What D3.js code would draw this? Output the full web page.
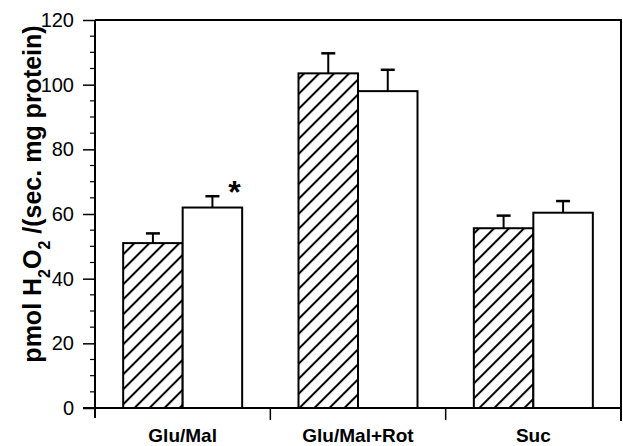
<!DOCTYPE html>
<html>
<head>
<meta charset="utf-8">
<script src="https://cdn.jsdelivr.net/npm/d3@7"></script>
<style>
  body { margin: 0; background: #fff; }
  svg text { font-family: "Liberation Sans", Arial, sans-serif; }
</style>
</head>
<body>
<div id="chart"></div>
<script>
// values
const groups = ["Glu/Mal", "Glu/Mal+Rot", "Suc"]
const hatched = [51, 103.5, 55.6]
const hatched_err = [3, 6.2, 3.9]
const open = [62, 98, 60.4]
const open_err = [3.5, 6.6, 3.6]
const y_ticks = [0, 20, 40, 60, 80, 100, 120]
const star_groups = ["Glu/Mal"] // significance marker on open bar

const width = 623
const height = 446
const mLeft = 95, mRight = 621, mTop = 20, mBottom = 408

const svg = d3.select("#chart").append("svg").attr("width", width).attr("height", height)

const defs = svg.append("defs")
defs.append("pattern")
  .attr("id", "hatch")
  .attr("patternUnits", "userSpaceOnUse")
  .attr("width", 10.6)
  .attr("height", 10.6)
  .attr("patternTransform", "rotate(45)")
  .append("line")
  .attr("x1", 2).attr("x2", 2)
  .attr("y1", 0).attr("y2", 10.6)
  .attr("stroke", "#000")
  .attr("stroke-width", 2)

const x = d3.scaleBand().domain(groups).range([mLeft, mRight]).padding(0)
const y = d3.scaleLinear().domain([0, 120]).range([mBottom, mTop])
const barW = 59.5
const sub = d3.scaleBand().domain(["hatched", "open"]).range([-barW, barW])
const mid = g => x(g) + x.bandwidth() / 2

// frame: top line and right line
svg.append("line").attr("x1", mLeft).attr("x2", mRight).attr("y1", mTop).attr("y2", mTop)
  .attr("stroke", "#000").attr("stroke-width", 2)
svg.append("line").attr("x1", mRight).attr("x2", mRight).attr("y1", mTop - 1).attr("y2", mBottom + 13)
  .attr("stroke", "#000").attr("stroke-width", 2)

// y axis
const yAxis = svg.append("g").attr("transform", `translate(${mLeft},0)`)
  .call(d3.axisLeft(y).tickValues(y_ticks).tickSize(12).tickPadding(9))
yAxis.select(".domain").remove()
yAxis.selectAll("line").attr("stroke-width", 1.5)
yAxis.selectAll("text").attr("font-size", 20).attr("fill", "#000")

const minor = d3.range(0, 121, 5).filter(v => v % 20 != 0)
svg.append("g").selectAll("line").data(minor).join("line")
  .attr("x1", mLeft - 5).attr("x2", mLeft)
  .attr("y1", d => y(d)).attr("y2", d => y(d))
  .attr("stroke", "#000").attr("stroke-width", 1.2)

svg.append("line").attr("x1", mLeft).attr("x2", mLeft).attr("y1", mTop).attr("y2", mBottom + 10)
  .attr("stroke", "#000").attr("stroke-width", 2)

// x axis
svg.append("line").attr("x1", mLeft - 12).attr("x2", mRight).attr("y1", mBottom).attr("y2", mBottom)
  .attr("stroke", "#000").attr("stroke-width", 2)
svg.append("g").selectAll("line").data(groups.slice(1)).join("line")
  .attr("x1", d => x(d)).attr("x2", d => x(d))
  .attr("y1", mBottom).attr("y2", mBottom + 12)
  .attr("stroke", "#000").attr("stroke-width", 1.5)

svg.append("g").selectAll("text").data(groups).join("text")
  .attr("x", d => mid(d))
  .attr("y", 442)
  .attr("text-anchor", "middle")
  .attr("font-size", 19)
  .attr("font-weight", "bold")
  .text(d => d)

// bars
function drawBars(values, errs, key, fill) {
  const g = svg.append("g")
  const cx = (d, i) => mid(groups[i]) + sub(key) + sub.bandwidth() / 2
  g.selectAll("line.err").data(values).join("line")
    .attr("x1", cx).attr("x2", cx)
    .attr("y1", d => y(d)).attr("y2", (d, i) => y(d + errs[i]))
    .attr("stroke", "#000").attr("stroke-width", 2)
  g.selectAll("line.cap").data(values).join("line")
    .attr("x1", (d, i) => cx(d, i) - 7).attr("x2", (d, i) => cx(d, i) + 7)
    .attr("y1", (d, i) => y(d + errs[i])).attr("y2", (d, i) => y(d + errs[i]))
    .attr("stroke", "#000").attr("stroke-width", 2.5)
  g.selectAll("rect").data(values).join("rect")
    .attr("x", (d, i) => mid(groups[i]) + sub(key))
    .attr("y", d => y(d))
    .attr("width", sub.bandwidth())
    .attr("height", d => y(0) - y(d))
    .attr("fill", fill)
    .attr("stroke", "#000")
    .attr("stroke-width", 2)
}
drawBars(hatched, hatched_err, "hatched", "url(#hatch)")
drawBars(open, open_err, "open", "#fff")

// significance marker
svg.append("g").selectAll("text").data(star_groups)
  .join("text")
  .attr("x", d => mid(d) + barW * 0.87)
  .attr("y", d => {
    const i = groups.indexOf(d)
    return y(open[i] + open_err[i]) + 7
  })
  .attr("text-anchor", "middle")
  .attr("font-size", 32)
  .attr("font-weight", "bold")
  .text("*")

// y label
svg.append("text")
  .attr("transform", "translate(41,194) rotate(-90)")
  .attr("text-anchor", "middle")
  .attr("font-size", 25)
  .attr("font-weight", "bold")
  .html('pmol H<tspan baseline-shift="sub" font-size="16">2</tspan>O<tspan baseline-shift="sub" font-size="16">2</tspan> /(sec. mg protein)')
</script>
</body>
</html>
